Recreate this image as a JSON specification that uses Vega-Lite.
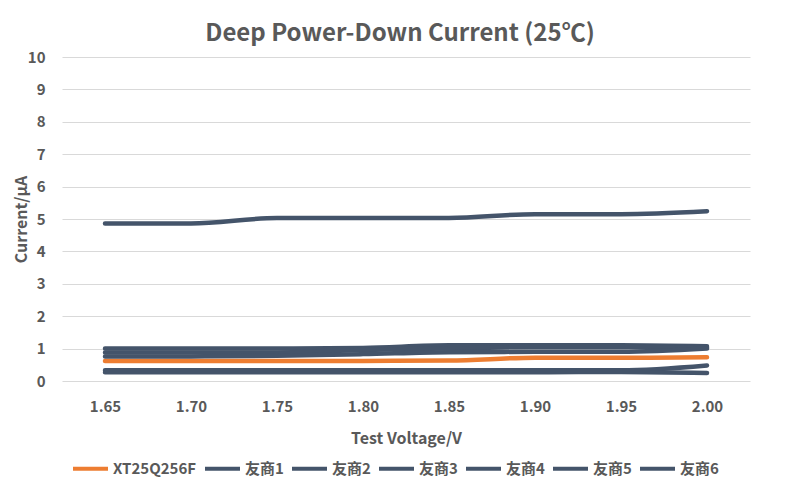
{
  "$schema": "https://vega.github.io/schema/vega-lite/v6.json",
  "autosize": {"type": "none"},
  "width": 688,
  "height": 324,
  "padding": {"left": 62, "top": 57, "right": 50, "bottom": 122},
  "background": "white",
  "title": {
    "text": "Deep Power-Down Current (25℃)",
    "font": "Noto Sans CJK SC",
    "fontSize": 24,
    "fontWeight": "bold",
    "color": "#595959",
    "anchor": "middle",
    "dx": -6,
    "offset": 4
  },
  "data": {
    "values": [
      {"v": "1.65", "s": "XT25Q256F", "c": 0.62},
      {"v": "1.70", "s": "XT25Q256F", "c": 0.62},
      {"v": "1.75", "s": "XT25Q256F", "c": 0.62},
      {"v": "1.80", "s": "XT25Q256F", "c": 0.62},
      {"v": "1.85", "s": "XT25Q256F", "c": 0.63},
      {"v": "1.90", "s": "XT25Q256F", "c": 0.72},
      {"v": "1.95", "s": "XT25Q256F", "c": 0.72},
      {"v": "2.00", "s": "XT25Q256F", "c": 0.73},
      {"v": "1.65", "s": "友商1", "c": 4.86},
      {"v": "1.70", "s": "友商1", "c": 4.86},
      {"v": "1.75", "s": "友商1", "c": 5.03},
      {"v": "1.80", "s": "友商1", "c": 5.03},
      {"v": "1.85", "s": "友商1", "c": 5.03},
      {"v": "1.90", "s": "友商1", "c": 5.15},
      {"v": "1.95", "s": "友商1", "c": 5.15},
      {"v": "2.00", "s": "友商1", "c": 5.24},
      {"v": "1.65", "s": "友商2", "c": 1.0},
      {"v": "1.70", "s": "友商2", "c": 1.0},
      {"v": "1.75", "s": "友商2", "c": 1.0},
      {"v": "1.80", "s": "友商2", "c": 1.02},
      {"v": "1.85", "s": "友商2", "c": 1.1},
      {"v": "1.90", "s": "友商2", "c": 1.1},
      {"v": "1.95", "s": "友商2", "c": 1.1},
      {"v": "2.00", "s": "友商2", "c": 1.07},
      {"v": "1.65", "s": "友商3", "c": 0.88},
      {"v": "1.70", "s": "友商3", "c": 0.88},
      {"v": "1.75", "s": "友商3", "c": 0.88},
      {"v": "1.80", "s": "友商3", "c": 0.96},
      {"v": "1.85", "s": "友商3", "c": 1.0},
      {"v": "1.90", "s": "友商3", "c": 1.05},
      {"v": "1.95", "s": "友商3", "c": 1.05},
      {"v": "2.00", "s": "友商3", "c": 1.03},
      {"v": "1.65", "s": "友商4", "c": 0.76},
      {"v": "1.70", "s": "友商4", "c": 0.76},
      {"v": "1.75", "s": "友商4", "c": 0.78},
      {"v": "1.80", "s": "友商4", "c": 0.83},
      {"v": "1.85", "s": "友商4", "c": 0.89},
      {"v": "1.90", "s": "友商4", "c": 0.9},
      {"v": "1.95", "s": "友商4", "c": 0.9},
      {"v": "2.00", "s": "友商4", "c": 1.0},
      {"v": "1.65", "s": "友商5", "c": 0.33},
      {"v": "1.70", "s": "友商5", "c": 0.33},
      {"v": "1.75", "s": "友商5", "c": 0.33},
      {"v": "1.80", "s": "友商5", "c": 0.33},
      {"v": "1.85", "s": "友商5", "c": 0.33},
      {"v": "1.90", "s": "友商5", "c": 0.33},
      {"v": "1.95", "s": "友商5", "c": 0.33},
      {"v": "2.00", "s": "友商5", "c": 0.48},
      {"v": "1.65", "s": "友商6", "c": 0.27},
      {"v": "1.70", "s": "友商6", "c": 0.27},
      {"v": "1.75", "s": "友商6", "c": 0.27},
      {"v": "1.80", "s": "友商6", "c": 0.27},
      {"v": "1.85", "s": "友商6", "c": 0.27},
      {"v": "1.90", "s": "友商6", "c": 0.27},
      {"v": "1.95", "s": "友商6", "c": 0.28},
      {"v": "2.00", "s": "友商6", "c": 0.25}
    ]
  },
  "mark": {"type": "line", "strokeWidth": 4.5, "strokeCap": "round", "interpolate": "monotone"},
  "encoding": {
    "x": {
      "field": "v",
      "type": "ordinal",
      "scale": {"type": "point", "padding": 0.5},
      "axis": {
        "title": "Test Voltage/V",
        "labelAngle": 0,
        "domain": false,
        "ticks": false,
        "grid": false,
        "labelPadding": 18,
        "labelFont": "Noto Sans CJK SC",
        "labelFontSize": 15,
        "labelFontWeight": "bold",
        "labelColor": "#595959",
        "titleFont": "Noto Sans CJK SC",
        "titleFontSize": 16,
        "titleFontWeight": "bold",
        "titleColor": "#595959",
        "titlePadding": 16
      }
    },
    "y": {
      "field": "c",
      "type": "quantitative",
      "scale": {"domain": [0, 10]},
      "axis": {
        "title": "Current/μA",
        "values": [0, 1, 2, 3, 4, 5, 6, 7, 8, 9, 10],
        "domain": false,
        "ticks": false,
        "gridColor": "#d9d9d9",
        "gridWidth": 1,
        "labelPadding": 17,
        "labelFont": "Noto Sans CJK SC",
        "labelFontSize": 15,
        "labelFontWeight": "bold",
        "labelColor": "#595959",
        "titleFont": "Noto Sans CJK SC",
        "titleFontSize": 16,
        "titleFontWeight": "bold",
        "titleColor": "#595959",
        "titlePadding": -2
      }
    },
    "color": {
      "field": "s",
      "type": "nominal",
      "scale": {
        "domain": ["XT25Q256F", "友商1", "友商2", "友商3", "友商4", "友商5", "友商6"],
        "range": ["#ED7D31", "#44546A", "#44546A", "#44546A", "#44546A", "#44546A", "#44546A"]
      },
      "legend": {
        "title": null,
        "orient": "none",
        "legendX": 9,
        "legendY": 392,
        "direction": "horizontal",
        "symbolType": "stroke",
        "symbolStrokeWidth": 4,
        "symbolSize": 1225,
        "labelOffset": 3,
        "labelFont": "Noto Sans CJK SC",
        "labelFontSize": 15,
        "labelFontWeight": "bold",
        "labelColor": "#595959",
        "columnPadding": 0
      }
    },
    "order": {"field": "s"}
  },
  "config": {"view": {"stroke": null}}
}
